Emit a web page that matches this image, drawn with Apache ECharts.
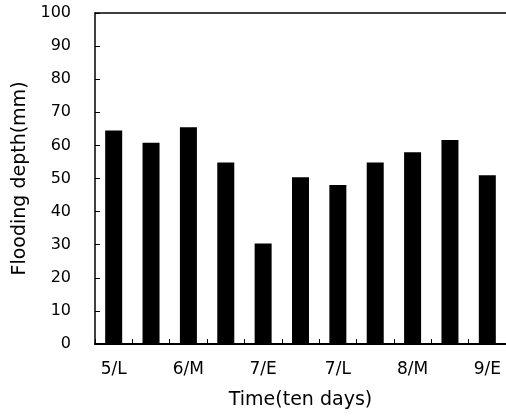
<!DOCTYPE html>
<html>
<head>
<meta charset="utf-8">
<script src="https://cdn.jsdelivr.net/npm/echarts@6/dist/echarts.min.js"></script>
<style>
html, body { margin: 0; padding: 0; background: #fff; }
#main { width: 506px; height: 417px; }
</style>
</head>
<body>
<div id="main"></div>
<script>
// ten-day periods, E/M/L = early/middle/late
var periods = ['5/L', '6/E', '6/M', '6/L', '7/E', '7/M', '7/L', '8/E', '8/M', '8/L', '9/E'];
var depth = [64.5, 60.8, 65.5, 54.8, 30.4, 50.4, 48.0, 54.8, 57.9, 61.6, 51.0];
var yTicks = [0, 100, 10];

var chart = echarts.init(document.getElementById('main'));

var font = 'DejaVu Sans';

var option = {
	animation: false,
	backgroundColor: '#fff',
	grid: {
		left: 95,
		top: 13,
		width: 414,
		height: 331,
		show: false
	},
	xAxis: [
		{
			type: 'category',
			data: periods,
			name: 'Time(ten days)',
			nameLocation: 'middle',
			nameGap: 47,
			nameTextStyle: { color: '#000', fontSize: 19, fontFamily: font },
			axisLine: { lineStyle: { color: '#000', width: 2 } },
			axisTick: { show: true, inside: true, length: 5, interval: 0, lineStyle: { color: '#000' } },
			axisLabel: { interval: 1, color: '#000', fontSize: 17, fontFamily: font, margin: 17 },
			splitLine: { show: false }
		},
		{
			// top frame line only
			type: 'category',
			position: 'top',
			data: periods,
			axisLine: { lineStyle: { color: '#000', width: 1.5 } },
			axisTick: { show: false },
			axisLabel: { show: false },
			splitLine: { show: false }
		}
	],
	yAxis: {
		type: 'value',
		min: yTicks[0],
		max: yTicks[1],
		interval: yTicks[2],
		name: 'Flooding depth(mm)',
		nameLocation: 'middle',
		nameGap: 61,
		nameTextStyle: { color: '#000', fontSize: 19, fontFamily: font },
		axisLine: { show: true, lineStyle: { color: '#000', width: 1.5 } },
		axisTick: { show: true, inside: true, length: 5, lineStyle: { color: '#000' } },
		axisLabel: { color: '#000', fontSize: 16, fontFamily: font, margin: 24 },
		splitLine: { show: false }
	},
	series: [
		{
			type: 'bar',
			data: depth,
			barWidth: 17,
			itemStyle: { color: '#000' }
		}
	]
};

chart.setOption(option);
</script>
</body>
</html>
